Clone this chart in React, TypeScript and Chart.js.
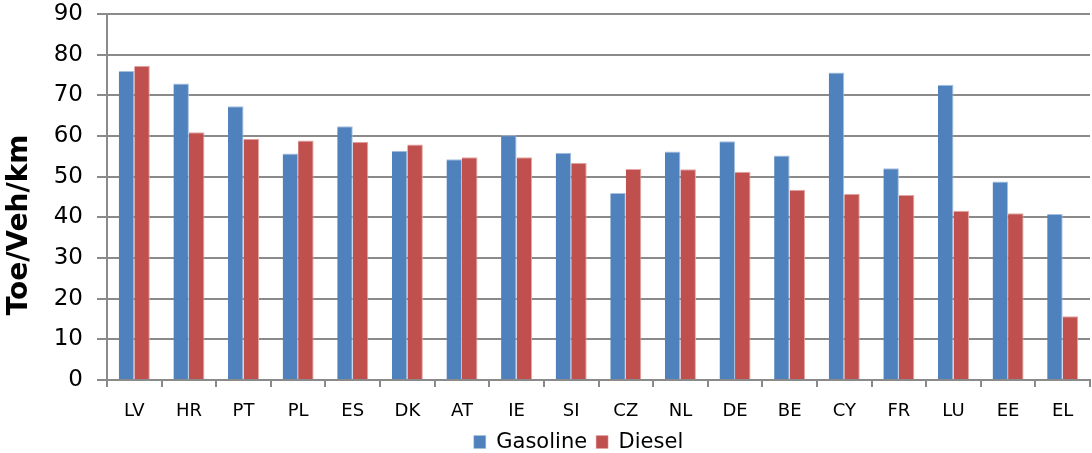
import React, { useEffect, useRef } from "react";
import { Chart, registerables } from "chart.js";

Chart.register(...registerables);

const categories = ["LV", "HR", "PT", "PL", "ES", "DK", "AT", "IE", "SI", "CZ", "NL", "DE", "BE", "CY", "FR", "LU", "EE", "EL"];
const gasoline = [76.0, 72.9, 67.3, 55.7, 62.4, 56.4, 54.3, 60.2, 55.9, 46.0, 56.2, 58.7, 55.2, 75.6, 52.1, 72.6, 48.8, 40.8];
const diesel = [77.3, 60.9, 59.3, 58.9, 58.6, 57.9, 54.8, 54.8, 53.4, 51.9, 51.8, 51.2, 46.8, 45.8, 45.5, 41.6, 41.0, 15.7];
const yTicks = [0, 10, 20, 30, 40, 50, 60, 70, 80, 90];
const yTitle = "Toe/Veh/km";

const yTitlePlugin = {
  id: "yTitlePlugin",
  afterLayout(chart: any) {
    if (chart.legend) {
      chart.legend.left -= 20;
      chart.legend.right -= 20;
    }
  },
  afterDraw(chart: any) {
    const { ctx, chartArea } = chart;
    ctx.save();
    ctx.translate(27, (chartArea.top + chartArea.bottom) / 2 + 28);
    ctx.rotate(-Math.PI / 2);
    ctx.font = "bold 28px 'DejaVu Sans'";
    ctx.fillStyle = "#000";
    ctx.textAlign = "center";
    ctx.textBaseline = "alphabetic";
    ctx.fillText(yTitle, 0, 0);
    ctx.restore();
  },
};

export default function App() {
  const ref = useRef<HTMLCanvasElement | null>(null);
  useEffect(() => {
    document.body.style.margin = "0";
    const ctx = ref.current!;
    const chart = new Chart(ctx, {
      type: "bar",
      data: {
        labels: categories,
        datasets: [
          { label: "Gasoline", data: gasoline, backgroundColor: "#4F81BD", borderColor: "#A7C0E0", borderWidth: { top: 1, right: 1 } as any, borderSkipped: "bottom" },
          { label: "Diesel", data: diesel, backgroundColor: "#C0504D", borderColor: "#E3A6A4", borderWidth: { top: 1, right: 1 } as any, borderSkipped: "bottom" },
        ],
      },
      plugins: [yTitlePlugin],
      options: {
        animation: false,
        responsive: true,
        maintainAspectRatio: false,
        layout: { padding: { top: 0, right: 2, left: 0, bottom: -9.6 } },
        datasets: { bar: { categoryPercentage: 0.568, barPercentage: 1.0 } },
        plugins: {
          legend: {
            position: "bottom",
            fullSize: false,
            labels: {
              font: { family: "DejaVu Sans", size: 21 },
              color: "#000",
              boxWidth: 12,
              boxHeight: 13,
              padding: 9,
            },
          },
          tooltip: { enabled: false },
        },
        scales: {
          x: {
            offset: true,
            afterFit: (axis: any) => {
              axis.height = 42.6;
            },
            grid: { display: true, offset: true, drawOnChartArea: false, drawTicks: true, tickLength: 7, color: "#8a8a8a", lineWidth: 2 },
            border: { display: true, color: "#8a8a8a", width: 2 },
            ticks: { font: { family: "DejaVu Sans", size: 18 }, color: "#000", padding: 14, autoSkip: false, maxRotation: 0 },
          },
          y: {
            min: 0,
            max: 90,
            afterBuildTicks: (axis: any) => {
              axis.ticks = yTicks.map((v) => ({ value: v }));
            },
            afterFit: (axis: any) => {
              axis.width = 107;
              axis.paddingTop = 14;
              axis.paddingBottom = 14;
            },
            grid: { color: "#8a8a8a", lineWidth: 2, tickLength: 10 },
            border: { display: true, color: "#8a8a8a", width: 2 },
            ticks: { font: { family: "DejaVu Sans", size: 23 }, color: "#000", padding: 14 },
            title: { display: false },
          },
        },
      },
    });
    return () => chart.destroy();
  }, []);
  return (
    <div style={{ position: "relative", width: 1092, height: 453 }}>
      <canvas ref={ref} />
    </div>
  );
}
